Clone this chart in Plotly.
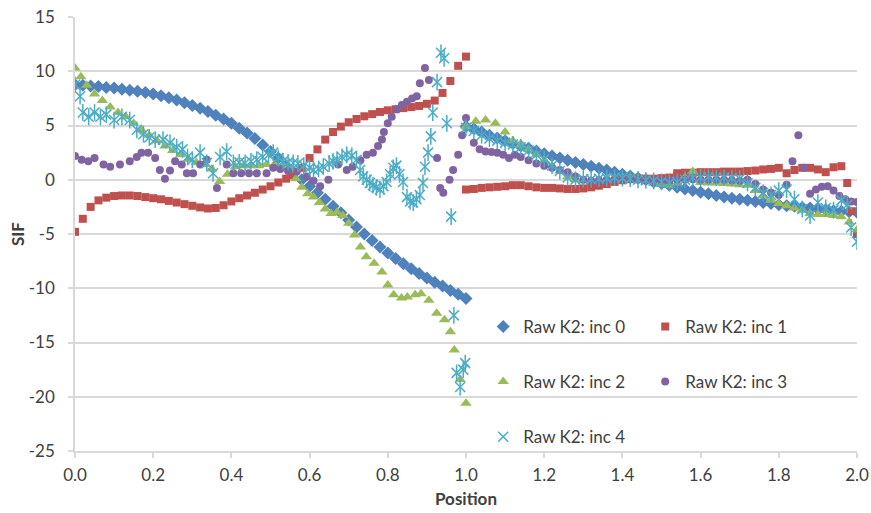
import numpy as np
import plotly.graph_objects as go

# ---------------- data ----------------
# inc 0 : sampled every 0.02 on both halves of the crack front
inc0_x = np.concatenate([np.round(np.arange(0, 1.0001, 0.02), 3),
                         np.round(np.arange(1.0, 2.0001, 0.02), 3)])
inc0_y = [8.75, 8.7, 8.65, 8.6, 8.5, 8.45, 8.35, 8.25, 8.15, 8.05,
          7.9, 7.75, 7.55, 7.35, 7.1, 6.85, 6.6, 6.3, 5.95, 5.6,
          5.2, 4.75, 4.3, 3.8, 3.2, 2.6, 2.0, 1.3, 0.65, 0.0,
          -0.6, -1.2, -1.8, -2.45, -3.05, -3.7, -4.35, -5.0, -5.6, -6.2,
          -6.75, -7.25, -7.75, -8.2, -8.65, -9.05, -9.45, -9.8, -10.2, -10.55,
          -10.95,
          4.9, 4.7, 4.4, 4.1, 3.85, 3.6, 3.35, 3.1, 2.9, 2.65,
          2.4, 2.2, 2.0, 1.8, 1.6, 1.4, 1.25, 1.05, 0.9, 0.7,
          0.5, 0.35, 0.15, 0.0, -0.2, -0.35, -0.5, -0.7, -0.85, -1.0,
          -1.15, -1.3, -1.45, -1.6, -1.7, -1.8, -1.9, -2.0, -2.1, -2.2,
          -2.3, -2.4, -2.45, -2.55, -2.6, -2.7, -2.75, -2.85, -2.9, -2.95,
          -3.0]

# inc 1
inc1_x = np.concatenate([np.round(np.arange(0, 1.0001, 0.02), 3),
                         np.round(np.arange(1.0, 1.9601, 0.02), 3),
                         [1.975, 1.985, 2.0]])
inc1_y = [-4.8, -3.6, -2.5, -1.9, -1.65, -1.5, -1.45, -1.45, -1.5, -1.6,
          -1.7, -1.8, -1.95, -2.1, -2.25, -2.4, -2.55, -2.65, -2.6, -2.35,
          -2.0, -1.7, -1.45, -1.2, -0.9, -0.6, -0.25, 0.1, 0.4, 1.1,
          2.0, 2.8, 3.7, 4.4, 4.9, 5.3, 5.6, 5.85, 6.05, 6.25,
          6.4, 6.5, 6.6, 6.7, 6.8, 7.0, 7.3, 8.0, 9.1, 10.5,
          11.35,
          -0.9, -0.85, -0.75, -0.7, -0.65, -0.6, -0.5, -0.5, -0.6, -0.7,
          -0.75, -0.75, -0.8, -0.85, -0.85, -0.8, -0.7, -0.55, -0.4, -0.2,
          -0.05, 0.05, 0.1, 0.1, 0.1, 0.15, 0.2, 0.6, 0.65, 0.65,
          0.7, 0.7, 0.7, 0.75, 0.75, 0.75, 0.8, 0.85, 0.95, 1.0,
          1.1, 0.6, 0.9, 1.1, 1.1, 0.95, 0.7, 1.15, 1.25,
          -0.3, -2.9, -5.0]

# inc 2
inc2_x = np.concatenate([
    [0.0, 0.015, 0.03, 0.05, 0.07, 0.09, 0.11, 0.13, 0.15, 0.17,
     0.19, 0.21, 0.23, 0.25, 0.27, 0.29, 0.31, 0.33, 0.35, 0.37,
     0.39, 0.41, 0.43, 0.45, 0.47, 0.49, 0.51, 0.53, 0.55, 0.565,
     0.58, 0.595, 0.61, 0.625, 0.64, 0.655, 0.67, 0.685, 0.70, 0.715,
     0.73, 0.745, 0.765, 0.785, 0.80, 0.815, 0.835, 0.85, 0.87, 0.885,
     0.905, 0.925, 0.945, 0.96, 0.97, 0.985, 1.0],
    [1.0, 1.025, 1.05, 1.075, 1.10],
    np.round(np.arange(1.12, 2.0001, 0.02), 3)])
inc2_y = [10.3, 9.5, 8.7, 7.9, 7.3, 6.7, 6.2, 5.8, 5.2, 4.6,
          4.1, 3.6, 3.1, 2.7, 2.3, 1.9, 1.6, 1.4, 1.0, -0.15,
          0.5, 1.2, 1.3, 1.3, 1.3, 1.4, 1.4, 1.3, 0.9, 0.1,
          -0.7, -1.3, -1.6, -2.1, -2.7, -3.1, -3.0, -3.3, -4.0, -5.1,
          -6.2, -7.1, -7.7, -8.5, -9.7, -10.6, -10.9, -10.8, -10.6, -10.5,
          -11.1, -12.3, -12.9, -14.0, -15.7, -18.4, -20.6,
          4.9, 5.4, 5.5, 5.2, 4.4,
          3.6, 3.2, 2.8, 2.3, 1.8, 1.3, 0.8, 0.3, 0.0, -0.1,
          -0.1, 0.0, 0.1, 0.15, 0.2, 0.2, 0.1, 0.0, -0.2, -0.4,
          -0.5, -0.3, 0.2, 0.75, -0.25, -0.3, -0.3, -0.35, -0.4, -0.45,
          -0.5, -1.0, -1.5, -1.9, -2.2, -2.4, -2.6, -2.8, -3.1, -3.2,
          -3.2, -3.3, -3.4, -3.9, -4.6]

# inc 3
inc3_x = np.concatenate([
    [0.0, 0.017, 0.034, 0.05, 0.073, 0.09, 0.115, 0.14, 0.158, 0.17,
     0.187, 0.205, 0.217, 0.23, 0.243, 0.256, 0.273, 0.286, 0.302, 0.32,
     0.337, 0.363, 0.388, 0.405, 0.425, 0.445, 0.465, 0.49, 0.507, 0.525,
     0.545, 0.567, 0.593, 0.61, 0.627, 0.648, 0.673, 0.695, 0.71, 0.73,
     0.746, 0.762, 0.775, 0.785, 0.79, 0.80, 0.81, 0.823, 0.836, 0.849,
     0.862, 0.874, 0.882, 0.895, 0.905, 0.926, 0.934, 0.942, 0.958, 0.967,
     0.98, 0.99, 1.0],
    [1.02, 1.035, 1.05, 1.065, 1.08, 1.095, 1.11, 1.125, 1.14],
    np.round(np.arange(1.16, 1.8001, 0.02), 3),
    [1.82, 1.835, 1.85, 1.865, 1.88, 1.895, 1.91, 1.925, 1.94, 1.955,
     1.97, 1.985, 2.0]])
inc3_y = [2.2, 1.85, 1.7, 2.0, 1.4, 1.2, 1.4, 1.7, 2.1, 2.5,
          2.5, 2.0, 0.9, 0.1, 0.85, 1.7, 1.4, 0.6, 0.6, 1.4,
          1.85, -0.75, 1.4, 0.6, 0.6, 0.6, 0.6, 0.6, 1.1, 1.0,
          0.8, 0.75, 0.3, -0.1, -0.6, 0.0, 1.4, 0.9, 1.2, 1.8,
          2.3, 2.5, 3.1, 3.7, 4.4, 5.2, 5.8, 6.5, 6.9, 7.2,
          7.5, 7.7, 8.9, 10.3, 9.2, 2.0, -0.75, -1.2, 0.0, 0.9,
          2.3, 4.1, 5.7,
          3.4, 2.8, 2.6, 2.55, 2.5, 2.3, 2.0, 2.3, 2.1,
          1.8, 1.5, 1.3, 1.1, 0.9, 0.7, 0.3, 0.0, -0.1, -0.05,
          0.0, 0.05, 0.1, 0.05, 0.0, -0.05, -0.1, -0.1, -0.05, 0.0,
          0.0, 0.05, 0.0, 0.0, 0.0, 0.0, -0.05, -0.1, 0.0, -0.4,
          -0.9, -1.2, -1.4,
          -0.45, 1.7, 4.1, 1.1, -1.3, -0.9, -0.65, -0.6, -1.0, -1.5,
          -1.8, -2.0, -2.05]

# inc 4
inc4_x = np.concatenate([
    [0.0, 0.013, 0.02, 0.035, 0.05, 0.065, 0.08, 0.10, 0.12, 0.14,
     0.158, 0.175, 0.19, 0.205, 0.225, 0.243, 0.26, 0.275, 0.288, 0.30,
     0.32, 0.337, 0.353, 0.371, 0.388, 0.405, 0.42, 0.435, 0.45, 0.465,
     0.48, 0.495, 0.507, 0.52, 0.532, 0.545, 0.558, 0.57, 0.585, 0.60,
     0.61, 0.623, 0.635, 0.65, 0.66, 0.67, 0.683, 0.695, 0.708, 0.72,
     0.729, 0.737, 0.746, 0.754, 0.762, 0.771, 0.78, 0.789, 0.797, 0.806,
     0.814, 0.822, 0.83, 0.839, 0.849, 0.857, 0.865, 0.873, 0.882, 0.89,
     0.895, 0.903, 0.91, 0.915, 0.926, 0.936, 0.944, 0.951, 0.962, 0.969,
     0.976, 0.985, 0.993, 0.998],
    np.round(np.arange(1.0, 1.9601, 0.02), 3),
    [1.975, 1.985, 2.0]])
inc4_y = [8.75, 7.7, 6.2, 5.8, 6.2, 5.8, 6.0, 5.5, 5.8, 5.5,
          4.6, 4.2, 3.9, 3.7, 3.7, 3.4, 3.0, 2.8, 2.1, 1.85,
          2.5, 1.55, 0.6, 2.1, 2.6, 1.55, 1.6, 1.55, 1.7, 1.85,
          2.1, 2.3, 2.5, 2.0, 1.7, 1.6, 1.55, 1.5, 1.3, 1.1,
          0.9, 1.0, 1.2, 1.5, 1.7, 1.85, 2.1, 2.3, 2.2, 1.85,
          0.9, 0.3, 0.0, -0.3, -0.5, -0.7, -0.9, -0.6, -0.2, 0.5,
          1.1, 1.3, 0.5, -0.2, -1.6, -2.0, -2.1, -1.8, -1.4, -0.3,
          1.2, 2.5, 4.0, 6.2, 9.0, 11.7, 11.2, 5.2, -3.4, -12.5,
          -17.8, -19.1, -17.5, -16.9,
          4.8, 4.5, 4.1, 3.8, 3.6, 3.4, 3.25, 3.0, 2.7, 2.3,
          1.9, 1.3, 0.8, 0.2, 0.0, 0.05, 0.05, 0.1, 0.15, 0.2,
          0.15, 0.1, 0.0, -0.05, -0.1, -0.2, -0.3, -0.2, 0.0, 0.2,
          0.2, 0.25, 0.2, 0.2, 0.15, 0.1, -0.3, -0.75, -1.2, -1.4,
          -1.0, -0.9, -1.8, -2.7, -3.3, -2.1, -2.6, -2.8, -1.9,
          -2.3, -4.4, -5.7]

series_names = ["Raw K2: inc 0", "Raw K2: inc 1", "Raw K2: inc 2",
                "Raw K2: inc 3", "Raw K2: inc 4"]
x_ticks = [0.0, 0.2, 0.4, 0.6, 0.8, 1.0, 1.2, 1.4, 1.6, 1.8, 2.0]
y_ticks = [-25, -20, -15, -10, -5, 0, 5, 10, 15]

# ---------------- styling ----------------
FONT = "Lato"
TXT = "#404040"
GRID = "#d9d9d9"
COLORS = ["#4F81BD", "#C0504D", "#9BBB59", "#8064A2", "#4BACC6"]

fig = go.Figure()

fig.add_trace(go.Scatter(
    x=inc0_x, y=inc0_y, mode="markers", name=series_names[0], legend="legend",
    marker=dict(symbol="diamond", size=10, color=COLORS[0])))
fig.add_trace(go.Scatter(
    x=inc1_x, y=inc1_y, mode="markers", name=series_names[1], legend="legend",
    marker=dict(symbol="square", size=8, color=COLORS[1])))
fig.add_trace(go.Scatter(
    x=inc2_x, y=inc2_y, mode="markers", name=series_names[2], legend="legend2",
    marker=dict(symbol="triangle-up", size=10, color=COLORS[2])))
fig.add_trace(go.Scatter(
    x=inc3_x, y=inc3_y, mode="markers", name=series_names[3], legend="legend2",
    marker=dict(symbol="circle", size=8, color=COLORS[3])))
# star marker: diagonal cross plus a vertical stroke
fig.add_trace(go.Scatter(
    x=inc4_x, y=inc4_y, mode="markers", name=series_names[4], legend="legend3",
    legendgroup="inc4",
    marker=dict(symbol="x-thin-open", size=10, color=COLORS[4],
                line=dict(width=1.5, color=COLORS[4]))))
fig.add_trace(go.Scatter(
    x=inc4_x, y=inc4_y, mode="markers", name=series_names[4], legend="legend3",
    legendgroup="inc4", showlegend=False,
    marker=dict(symbol="line-ns-open", size=12, color=COLORS[4],
                line=dict(width=1.5, color=COLORS[4]))))

legend_common = dict(orientation="h", xanchor="left", yanchor="middle",
                     x=0.522, bgcolor="rgba(0,0,0,0)",
                     font=dict(family=FONT, size=17, color=TXT),
                     entrywidthmode="pixels", entrywidth=117,
                     itemclick=False, itemdoubleclick=False)

fig.update_layout(
    width=871, height=513,
    margin=dict(l=75, r=14, t=17, b=62, autoexpand=False),
    paper_bgcolor="white", plot_bgcolor="white",
    font=dict(family=FONT, size=17, color=TXT),
    legend=dict(legend_common, y=0.2857),
    legend2=dict(legend_common, y=0.159),
    legend3=dict(legend_common, y=0.032),
    xaxis=dict(
        range=[0, 2], tickvals=x_ticks, automargin=False,
        ticktext=[f"{v:.1f}" for v in x_ticks],
        showgrid=False, zeroline=False,
        showline=True, linecolor=GRID, linewidth=1.5,
        ticks="outside", ticklen=5, tickcolor=GRID, tickwidth=1.5,
        ticklabelstandoff=3,
        tickfont=dict(family=FONT, size=17, color=TXT),
        title=dict(text="<b>Position</b>", standoff=9,
                   font=dict(family=FONT, size=17, color=TXT)),
    ),
    yaxis=dict(
        range=[-25, 15], tickvals=y_ticks, automargin=False,
        ticktext=[str(v) for v in y_ticks],
        showgrid=True, gridcolor=GRID, gridwidth=1.5, zeroline=False,
        showline=True, linecolor=GRID, linewidth=1.5,
        ticks="outside", ticklen=5, tickcolor=GRID, tickwidth=1.5,
        ticklabelstandoff=10,
        tickfont=dict(family=FONT, size=17, color=TXT),
        title=dict(text="<b>SIF</b>", standoff=0,
                   font=dict(family=FONT, size=17, color=TXT)),
    ),
)

fig.write_html("out.html")
